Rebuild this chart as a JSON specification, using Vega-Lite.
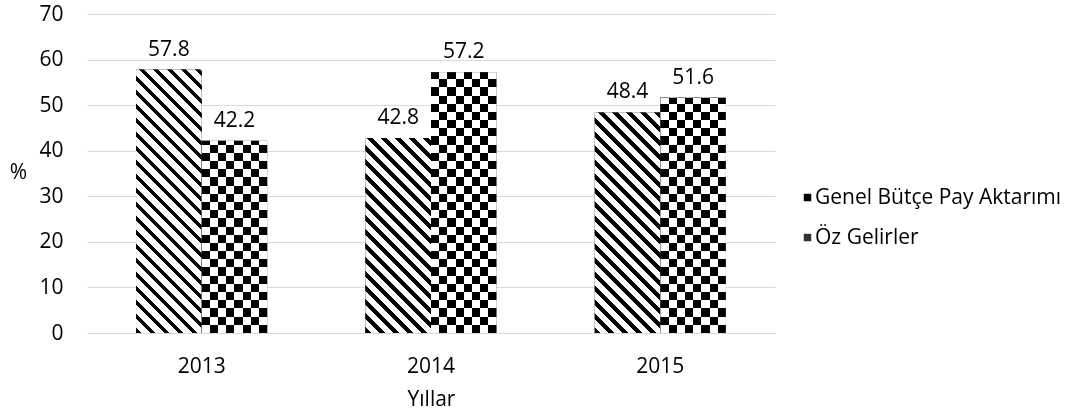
{
  "$schema": "https://vega.github.io/schema/vega-lite/v6.json",
  "width": 688,
  "height": 319,
  "autosize": {"type": "none"},
  "padding": {"left": 87, "top": 14, "right": 311, "bottom": 83},
  "background": "white",
  "config": {"view": {"stroke": null}},
  "params": [
    {"name": "stripeStops", "value": [
      {"offset":0,"color":"#000"},{"offset":0.016667,"color":"#000"},{"offset":0.016667,"color":"#fff"},{"offset":0.041667,"color":"#fff"},
      {"offset":0.041667,"color":"#000"},{"offset":0.058333,"color":"#000"},{"offset":0.058333,"color":"#fff"},{"offset":0.083333,"color":"#fff"},
      {"offset":0.083333,"color":"#000"},{"offset":0.1,"color":"#000"},{"offset":0.1,"color":"#fff"},{"offset":0.125,"color":"#fff"},
      {"offset":0.125,"color":"#000"},{"offset":0.141667,"color":"#000"},{"offset":0.141667,"color":"#fff"},{"offset":0.166667,"color":"#fff"},
      {"offset":0.166667,"color":"#000"},{"offset":0.183333,"color":"#000"},{"offset":0.183333,"color":"#fff"},{"offset":0.208333,"color":"#fff"},
      {"offset":0.208333,"color":"#000"},{"offset":0.225,"color":"#000"},{"offset":0.225,"color":"#fff"},{"offset":0.25,"color":"#fff"},
      {"offset":0.25,"color":"#000"},{"offset":0.266667,"color":"#000"},{"offset":0.266667,"color":"#fff"},{"offset":0.291667,"color":"#fff"},
      {"offset":0.291667,"color":"#000"},{"offset":0.308333,"color":"#000"},{"offset":0.308333,"color":"#fff"},{"offset":0.333333,"color":"#fff"},
      {"offset":0.333333,"color":"#000"},{"offset":0.35,"color":"#000"},{"offset":0.35,"color":"#fff"},{"offset":0.375,"color":"#fff"},
      {"offset":0.375,"color":"#000"},{"offset":0.391667,"color":"#000"},{"offset":0.391667,"color":"#fff"},{"offset":0.416667,"color":"#fff"},
      {"offset":0.416667,"color":"#000"},{"offset":0.433333,"color":"#000"},{"offset":0.433333,"color":"#fff"},{"offset":0.458333,"color":"#fff"},
      {"offset":0.458333,"color":"#000"},{"offset":0.475,"color":"#000"},{"offset":0.475,"color":"#fff"},{"offset":0.5,"color":"#fff"},
      {"offset":0.5,"color":"#000"},{"offset":0.516667,"color":"#000"},{"offset":0.516667,"color":"#fff"},{"offset":0.541667,"color":"#fff"},
      {"offset":0.541667,"color":"#000"},{"offset":0.558333,"color":"#000"},{"offset":0.558333,"color":"#fff"},{"offset":0.583333,"color":"#fff"},
      {"offset":0.583333,"color":"#000"},{"offset":0.6,"color":"#000"},{"offset":0.6,"color":"#fff"},{"offset":0.625,"color":"#fff"},
      {"offset":0.625,"color":"#000"},{"offset":0.641667,"color":"#000"},{"offset":0.641667,"color":"#fff"},{"offset":0.666667,"color":"#fff"},
      {"offset":0.666667,"color":"#000"},{"offset":0.683333,"color":"#000"},{"offset":0.683333,"color":"#fff"},{"offset":0.708333,"color":"#fff"},
      {"offset":0.708333,"color":"#000"},{"offset":0.725,"color":"#000"},{"offset":0.725,"color":"#fff"},{"offset":0.75,"color":"#fff"},
      {"offset":0.75,"color":"#000"},{"offset":0.766667,"color":"#000"},{"offset":0.766667,"color":"#fff"},{"offset":0.791667,"color":"#fff"},
      {"offset":0.791667,"color":"#000"},{"offset":0.808333,"color":"#000"},{"offset":0.808333,"color":"#fff"},{"offset":0.833333,"color":"#fff"},
      {"offset":0.833333,"color":"#000"},{"offset":0.85,"color":"#000"},{"offset":0.85,"color":"#fff"},{"offset":0.875,"color":"#fff"},
      {"offset":0.875,"color":"#000"},{"offset":0.891667,"color":"#000"},{"offset":0.891667,"color":"#fff"},{"offset":0.916667,"color":"#fff"},
      {"offset":0.916667,"color":"#000"},{"offset":0.933333,"color":"#000"},{"offset":0.933333,"color":"#fff"},{"offset":0.958333,"color":"#fff"},
      {"offset":0.958333,"color":"#000"},{"offset":0.975,"color":"#000"},{"offset":0.975,"color":"#fff"},{"offset":1,"color":"#fff"}
    ]},
    {"name": "rowStops", "value": [
      {"offset":0,"color":"#fff"},{"offset":0.029412,"color":"#fff"},{"offset":0.029412,"color":"#000"},{"offset":0.058824,"color":"#000"},
      {"offset":0.058824,"color":"#fff"},{"offset":0.088235,"color":"#fff"},{"offset":0.088235,"color":"#000"},{"offset":0.117647,"color":"#000"},
      {"offset":0.117647,"color":"#fff"},{"offset":0.147059,"color":"#fff"},{"offset":0.147059,"color":"#000"},{"offset":0.176471,"color":"#000"},
      {"offset":0.176471,"color":"#fff"},{"offset":0.205882,"color":"#fff"},{"offset":0.205882,"color":"#000"},{"offset":0.235294,"color":"#000"},
      {"offset":0.235294,"color":"#fff"},{"offset":0.264706,"color":"#fff"},{"offset":0.264706,"color":"#000"},{"offset":0.294118,"color":"#000"},
      {"offset":0.294118,"color":"#fff"},{"offset":0.323529,"color":"#fff"},{"offset":0.323529,"color":"#000"},{"offset":0.352941,"color":"#000"},
      {"offset":0.352941,"color":"#fff"},{"offset":0.382353,"color":"#fff"},{"offset":0.382353,"color":"#000"},{"offset":0.411765,"color":"#000"},
      {"offset":0.411765,"color":"#fff"},{"offset":0.441176,"color":"#fff"},{"offset":0.441176,"color":"#000"},{"offset":0.470588,"color":"#000"},
      {"offset":0.470588,"color":"#fff"},{"offset":0.5,"color":"#fff"},{"offset":0.5,"color":"#000"},{"offset":0.529412,"color":"#000"},
      {"offset":0.529412,"color":"#fff"},{"offset":0.558824,"color":"#fff"},{"offset":0.558824,"color":"#000"},{"offset":0.588235,"color":"#000"},
      {"offset":0.588235,"color":"#fff"},{"offset":0.617647,"color":"#fff"},{"offset":0.617647,"color":"#000"},{"offset":0.647059,"color":"#000"},
      {"offset":0.647059,"color":"#fff"},{"offset":0.676471,"color":"#fff"},{"offset":0.676471,"color":"#000"},{"offset":0.705882,"color":"#000"},
      {"offset":0.705882,"color":"#fff"},{"offset":0.735294,"color":"#fff"},{"offset":0.735294,"color":"#000"},{"offset":0.764706,"color":"#000"},
      {"offset":0.764706,"color":"#fff"},{"offset":0.794118,"color":"#fff"},{"offset":0.794118,"color":"#000"},{"offset":0.823529,"color":"#000"},
      {"offset":0.823529,"color":"#fff"},{"offset":0.852941,"color":"#fff"},{"offset":0.852941,"color":"#000"},{"offset":0.882353,"color":"#000"},
      {"offset":0.882353,"color":"#fff"},{"offset":0.911765,"color":"#fff"},{"offset":0.911765,"color":"#000"},{"offset":0.941176,"color":"#000"},
      {"offset":0.941176,"color":"#fff"},{"offset":0.970588,"color":"#fff"},{"offset":0.970588,"color":"#000"},{"offset":1,"color":"#000"}
    ]}
  ],
  "data": {"values": [
    {"yil": "2013", "seri": "Genel Bütçe Pay Aktarımı", "pay": 57.8},
    {"yil": "2013", "seri": "Öz Gelirler", "pay": 42.2},
    {"yil": "2014", "seri": "Genel Bütçe Pay Aktarımı", "pay": 42.8},
    {"yil": "2014", "seri": "Öz Gelirler", "pay": 57.2},
    {"yil": "2015", "seri": "Genel Bütçe Pay Aktarımı", "pay": 48.4},
    {"yil": "2015", "seri": "Öz Gelirler", "pay": 51.6}
  ]},
  "encoding": {
    "x": {
      "field": "yil", "type": "nominal",
      "scale": {"paddingInner": 0.428, "paddingOuter": 0.214},
      "axis": {
        "title": "Yıllar", "labelAngle": 0, "labelPadding": 22, "titlePadding": 12,
        "ticks": false, "domainColor": "#d9d9d9", "domainWidth": 1, "grid": false,
        "labelFont": "Open Sans", "labelFontSize": 21, "labelColor": "#000",
        "titleFont": "Open Sans", "titleFontSize": 21, "titleFontWeight": "normal", "titleColor": "#000"
      }
    },
    "xOffset": {"field": "seri", "type": "nominal", "scale": {"domain": ["Genel Bütçe Pay Aktarımı", "Öz Gelirler"], "paddingInner": 0, "paddingOuter": 0}},
    "y": {
      "field": "pay", "type": "quantitative",
      "scale": {"domain": [0, 70], "nice": false},
      "axis": {
        "title": "%", "titleAngle": 0, "titleX": -69, "titleY": 158, "titleAlign": "center", "titleBaseline": "middle",
        "titleFont": "Open Sans", "titleFontSize": 21, "titleFontWeight": "normal", "titleColor": "#000",
        "values": [0, 10, 20, 30, 40, 50, 60, 70],
        "labelFont": "Open Sans", "labelFontSize": 21, "labelColor": "#000", "labelPadding": 24,
        "ticks": false, "domain": false, "gridColor": "#d9d9d9", "gridWidth": 1
      }
    }
  },
  "layer": [
    {
      "mark": {"type": "bar"},
      "encoding": {
        "fill": {
          "field": "seri", "type": "nominal",
          "scale": {"domain": ["Genel Bütçe Pay Aktarımı", "Öz Gelirler"], "range": ["#000000", "#333333"]},
          "legend": {
            "title": null, "orient": "none", "legendX": 710, "legendY": 173,
            "symbolType": "square", "symbolSize": 56, "symbolStrokeWidth": 0,
            "labelFont": "Open Sans", "labelFontSize": 21, "labelColor": "#000", "labelLimit": 400,
            "labelOffset": -3, "rowPadding": 18, "padding": 0,
            "encode": {
              "symbols": {
                "update": {
                  "fill": {"signal": "datum.value == 'Öz Gelirler' ? {'gradient':'linear','x1':0,'y1':0,'x2':1,'y2':1,'stops':[{'offset':0,'color':'#000'},{'offset':0.45,'color':'#000'},{'offset':0.45,'color':'#fff'},{'offset':0.6,'color':'#fff'},{'offset':0.6,'color':'#000'},{'offset':1,'color':'#000'}]} : {'gradient':'linear','x1':0,'y1':1,'x2':1,'y2':0,'stops':[{'offset':0,'color':'#000'},{'offset':0.3,'color':'#000'},{'offset':0.3,'color':'#fff'},{'offset':0.5,'color':'#fff'},{'offset':0.5,'color':'#000'},{'offset':0.8,'color':'#000'},{'offset':0.8,'color':'#fff'},{'offset':1,'color':'#fff'}]}"}
                }
              }
            }
          }
        }
      }
    },
    {
      "transform": [{"filter": "datum.seri == 'Genel Bütçe Pay Aktarımı'"}],
      "mark": {
        "type": "bar",
        "fill": {"expr": "{'gradient':'linear','x1':0,'y1':1,'x2':336*65.6/(65.6*65.6+pow(datum.pay*4.5571,2)),'y2':1-336*datum.pay*4.5571/(65.6*65.6+pow(datum.pay*4.5571,2)),'stops':stripeStops}"}
      }
    },
    {
      "transform": [{"filter": "datum.seri == 'Öz Gelirler'"}],
      "mark": {
        "type": "bar",
        "fill": {"gradient": "linear", "x1": 0, "y1": 0, "x2": 1, "y2": 0, "stops": [
          {"offset": 0, "color": "#000"}, {"offset": 0.125, "color": "#000"}, {"offset": 0.125, "color": "#fff"}, {"offset": 0.25, "color": "#fff"},
          {"offset": 0.25, "color": "#000"}, {"offset": 0.375, "color": "#000"}, {"offset": 0.375, "color": "#fff"}, {"offset": 0.5, "color": "#fff"},
          {"offset": 0.5, "color": "#000"}, {"offset": 0.625, "color": "#000"}, {"offset": 0.625, "color": "#fff"}, {"offset": 0.75, "color": "#fff"},
          {"offset": 0.75, "color": "#000"}, {"offset": 0.875, "color": "#000"}, {"offset": 0.875, "color": "#fff"}, {"offset": 1, "color": "#fff"}
        ]}
      }
    },
    {
      "transform": [{"filter": "datum.seri == 'Öz Gelirler'"}],
      "mark": {
        "type": "bar",
        "blend": "difference",
        "fill": {"expr": "{'gradient':'linear','x1':0.5,'y1':1,'x2':0.5,'y2':1-278.375/(datum.pay*4.5571),'stops':rowStops}"}
      }
    },
    {
      "mark": {"type": "text", "baseline": "alphabetic", "dy": -14, "font": "Open Sans", "fontSize": 21, "color": "#000"},
      "encoding": {"text": {"field": "pay", "type": "quantitative", "format": ".1f"}}
    }
  ]
}
